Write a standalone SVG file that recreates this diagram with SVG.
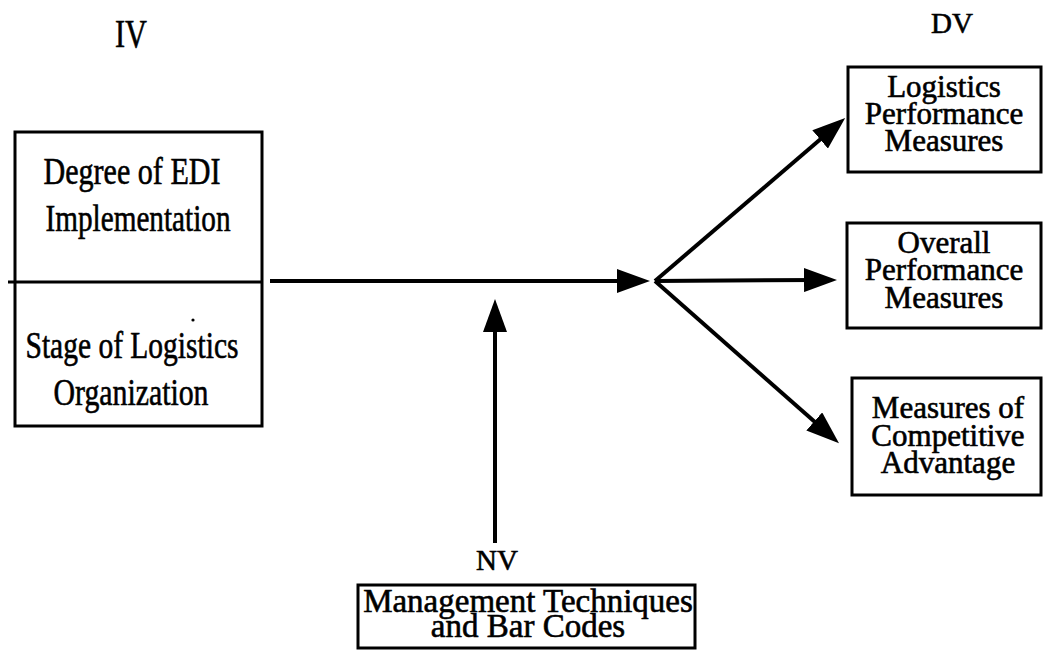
<svg xmlns="http://www.w3.org/2000/svg" width="1043" height="650" viewBox="0 0 1043 650">
  <style>
    .box { fill: none; stroke: #000; stroke-width: 3; }
    .t { font-family: "Liberation Serif", "Times New Roman", serif; fill: #000; stroke: #000; stroke-width: 0.6; text-anchor: middle; }
    .lt { font-size: 38px; }
    .rt { font-size: 31px; }
    .bt { font-size: 33px; }
    .lbl { font-size: 29px; }
    .big { font-size: 39px; }
    .conn { stroke: #000; stroke-width: 4; fill: none; }
  </style>
  <defs>
    <marker id="ah" viewBox="0 0 33 24" refX="13" refY="12" markerWidth="33" markerHeight="24" markerUnits="userSpaceOnUse" orient="auto">
      <path d="M0,0 L33,12 L0,24 Z" fill="#000"/>
    </marker>
  </defs>
  <rect width="1043" height="650" fill="#fff"/>

  <g id="label-iv"><text class="t big" x="131" y="47" textLength="32" lengthAdjust="spacingAndGlyphs">IV</text></g>
  <g id="label-dv"><text class="t lbl" x="952" y="33">DV</text></g>

  <g id="iv-box">
    <rect class="box" x="15" y="132" width="247" height="294"/>
    <line x1="8" y1="282" x2="262" y2="282" stroke="#000" stroke-width="3"/>
    <text class="t lt" x="132" y="184" textLength="177" lengthAdjust="spacingAndGlyphs">Degree of EDI</text>
    <text class="t lt" x="138" y="231" textLength="185" lengthAdjust="spacingAndGlyphs">Implementation</text>
    <circle cx="193" cy="320" r="1.6" fill="#000"/>
    <text class="t lt" x="132" y="358" textLength="213" lengthAdjust="spacingAndGlyphs">Stage of Logistics</text>
    <text class="t lt" x="131" y="405" textLength="155" lengthAdjust="spacingAndGlyphs">Organization</text>
  </g>

  <g id="dv1">
    <rect class="box" x="848" y="67" width="193" height="105"/>
    <text class="t rt" x="944" y="97">Logistics</text>
    <text class="t rt" x="944" y="124">Performance</text>
    <text class="t rt" x="944" y="151">Measures</text>
  </g>
  <g id="dv2">
    <rect class="box" x="847" y="223" width="194" height="105"/>
    <text class="t rt" x="944" y="253">Overall</text>
    <text class="t rt" x="944" y="280">Performance</text>
    <text class="t rt" x="944" y="308">Measures</text>
  </g>
  <g id="dv3">
    <rect class="box" x="852" y="378" width="189" height="117"/>
    <text class="t rt" x="948" y="418">Measures of</text>
    <text class="t rt" x="948" y="446">Competitive</text>
    <text class="t rt" x="948" y="473">Advantage</text>
  </g>

  <g id="nv">
    <text class="t lbl" x="497" y="570">NV</text>
    <rect class="box" x="358" y="585" width="337" height="63"/>
    <text class="t bt" x="528" y="612">Management Techniques</text>
    <text class="t bt" x="528" y="637">and Bar Codes</text>
  </g>

  <g id="connectors">
    <line class="conn" x1="270" y1="281" x2="630" y2="281" stroke-width="3" marker-end="url(#ah)"/>
    <line class="conn" x1="495" y1="543" x2="495" y2="319" marker-end="url(#ah)"/>
    <line class="conn" x1="655" y1="281" x2="830" y2="131" marker-end="url(#ah)"/>
    <line class="conn" x1="655" y1="281" x2="817" y2="280" marker-end="url(#ah)"/>
    <line class="conn" x1="655" y1="281" x2="824" y2="430" marker-end="url(#ah)"/>
  </g>
</svg>
